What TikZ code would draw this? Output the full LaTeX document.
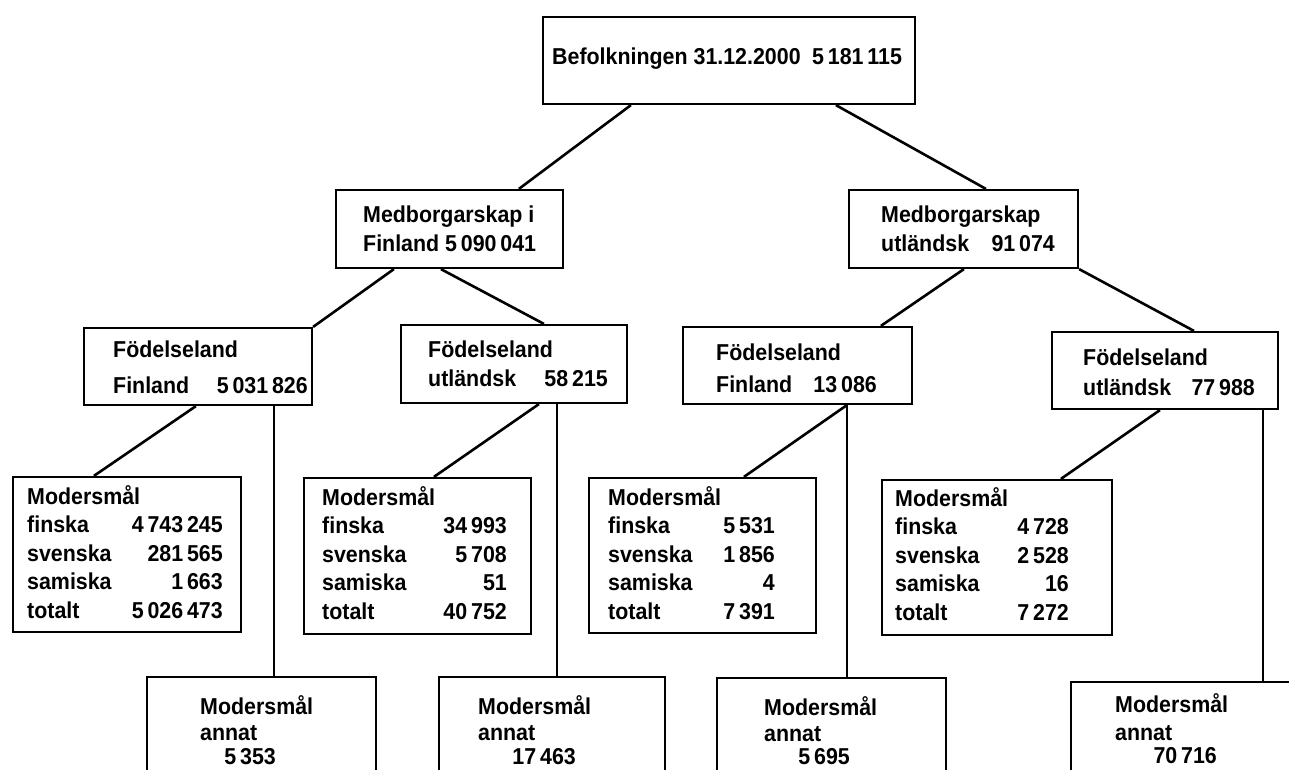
\documentclass[tikz,border=0pt]{standalone}
\usepackage{fontspec}
\setmainfont{Liberation Sans}[FakeStretch=0.93]
\usepackage{tikz}
\usetikzlibrary{fit}
\tikzset{
  box/.style={draw, line width=2.2pt, inner sep=0pt},
  link/.style={line width=2.6pt},
  txt/.style={anchor=base west, inner sep=0pt},
  num/.style={anchor=base east, inner sep=0pt}
}
% heading and four language rows of a Modersmål box
\newcommand{\modtab}[8]{%
  \node[txt] (#1-head) at (#2,#4) {Modersmål};
  \node[txt] (#1-fi) at (#2,#4+28.5) {finska};
  \node[txt] (#1-sv) at (#2,#4+57) {svenska};
  \node[txt] (#1-sa) at (#2,#4+85.5) {samiska};
  \node[txt] (#1-to) at (#2,#4+114) {totalt};
  \node[num] (#1-fin) at (#3,#4+28.5) {#5};
  \node[num] (#1-svn) at (#3,#4+57) {#6};
  \node[num] (#1-san) at (#3,#4+85.5) {#7};
  \node[num] (#1-ton) at (#3,#4+114) {#8};
}

\begin{document}
\begin{tikzpicture}[x=1pt, y=-1pt, font=\bfseries\fontsize{23}{28}\selectfont]
  \useasboundingbox (0,0) rectangle (1289,769);
  \clip (0,0) rectangle (1289,769);

  % boxes
  \node[box, fit={(543,17) (915,104)}] (top) {};
  \node[box, fit={(336,190) (563,268)}] (medi) {};
  \node[box, fit={(849,190) (1078,268)}] (medu) {};
  \node[box, fit={(84,328) (312,405)}] (ff) {};
  \node[box, fit={(401,325) (627,403)}] (fu) {};
  \node[box, fit={(683,327) (912,404)}] (f2f) {};
  \node[box, fit={(1052,332) (1278,409)}] (f2u) {};
  \node[box, fit={(13,477) (241,632)}] (mod1) {};
  \node[box, fit={(304,478) (531,634)}] (mod2) {};
  \node[box, fit={(589,478) (816,633)}] (mod3) {};
  \node[box, fit={(882,480) (1112,635)}] (mod4) {};
  \node[box, fit={(147,677) (376,800)}] (ann1) {};
  \node[box, fit={(439,677) (665,800)}] (ann2) {};
  \node[box, fit={(717,678) (946,800)}] (ann3) {};
  \node[box, fit={(1071,682) (1330,800)}] (ann4) {};

  % texts
  \node[txt] (top-t) at (552,64) {Befolkningen 31.12.2000\enspace 5\,181\,115};
  \node[txt] (medi-a) at (363,222) {Medborgarskap i};
  \node[txt] (medi-b) at (363,251) {Finland 5\,090\,041};
  \node[txt] (medu-a) at (881,222) {Medborgarskap};
  \node[txt] (medu-b) at (881,251) {utländsk};
  \node[num] (medu-n) at (1055,251) {91\,074};
  \node[txt] (ff-a) at (113,357) {Födelseland};
  \node[txt] (ff-b) at (113,393) {Finland};
  \node[num] (ff-n) at (308,393) {5\,031\,826};
  \node[txt] (fu-a) at (428,357) {Födelseland};
  \node[txt] (fu-b) at (428,386) {utländsk};
  \node[num] (fu-n) at (608,386) {58\,215};
  \node[txt] (f2f-a) at (716,360) {Födelseland};
  \node[txt] (f2f-b) at (716,392) {Finland};
  \node[num] (f2f-n) at (877,392) {13\,086};
  \node[txt] (f2u-a) at (1083,365) {Födelseland};
  \node[txt] (f2u-b) at (1083,395) {utländsk};
  \node[num] (f2u-n) at (1255,395) {77\,988};

  \modtab{m1}{27}{223}{504}{4\,743\,245}{281\,565}{1\,663}{5\,026\,473}
  \modtab{m2}{322}{507}{505}{34\,993}{5\,708}{51}{40\,752}
  \modtab{m3}{608}{775}{505}{5\,531}{1\,856}{4}{7\,391}
  \modtab{m4}{895}{1069}{506}{4\,728}{2\,528}{16}{7\,272}

  \node[txt] (ann1-a) at (200,714) {Modersmål};
  \node[txt] (ann1-b) at (200,740) {annat};
  \node[num] (ann1-n) at (276,764) {5\,353};
  \node[txt] (ann2-a) at (478,714) {Modersmål};
  \node[txt] (ann2-b) at (478,740) {annat};
  \node[num] (ann2-n) at (576,764) {17\,463};
  \node[txt] (ann3-a) at (764,715) {Modersmål};
  \node[txt] (ann3-b) at (764,741) {annat};
  \node[num] (ann3-n) at (850,764) {5\,695};
  \node[txt] (ann4-a) at (1115,712) {Modersmål};
  \node[txt] (ann4-b) at (1115,740) {annat};
  \node[num] (ann4-n) at (1217,763) {70\,716};

  % connectors
  \draw[link] ([xshift=89pt]top.south west) -- ([xshift=184pt]medi.north west);
  \draw[link] ([xshift=294pt]top.south west) -- ([xshift=138pt]medu.north west);
  \draw[link] ([xshift=59pt]medi.south west) -- (ff.north east);
  \draw[link] ([xshift=106pt]medi.south west) -- ([xshift=144pt]fu.north west);
  \draw[link] ([xshift=116pt]medu.south west) -- ([xshift=199pt]f2f.north west);
  \draw[link] (medu.south east) -- ([xshift=143pt]f2u.north west);
  \draw[link] ([xshift=113pt]ff.south west) -- ([xshift=82pt]mod1.north west);
  \draw[link] ([xshift=191pt]ff.south west) coordinate (ffa) -- (ffa |- ann1.north);
  \draw[link] ([xshift=139pt]fu.south west) -- ([xshift=131pt]mod2.north west);
  \draw[link] ([xshift=157pt]fu.south west) coordinate (fua) -- (fua |- ann2.north);
  \draw[link] ([xshift=165pt]f2f.south west) -- ([xshift=156pt]mod3.north west);
  \draw[link] ([xshift=165pt]f2f.south west) coordinate (f2fa) -- (f2fa |- ann3.north);
  \draw[link] ([xshift=109pt]f2u.south west) -- ([xshift=180pt]mod4.north west);
  \draw[link] ([xshift=212pt]f2u.south west) coordinate (f2ua) -- (f2ua |- ann4.north);
\end{tikzpicture}
\end{document}
